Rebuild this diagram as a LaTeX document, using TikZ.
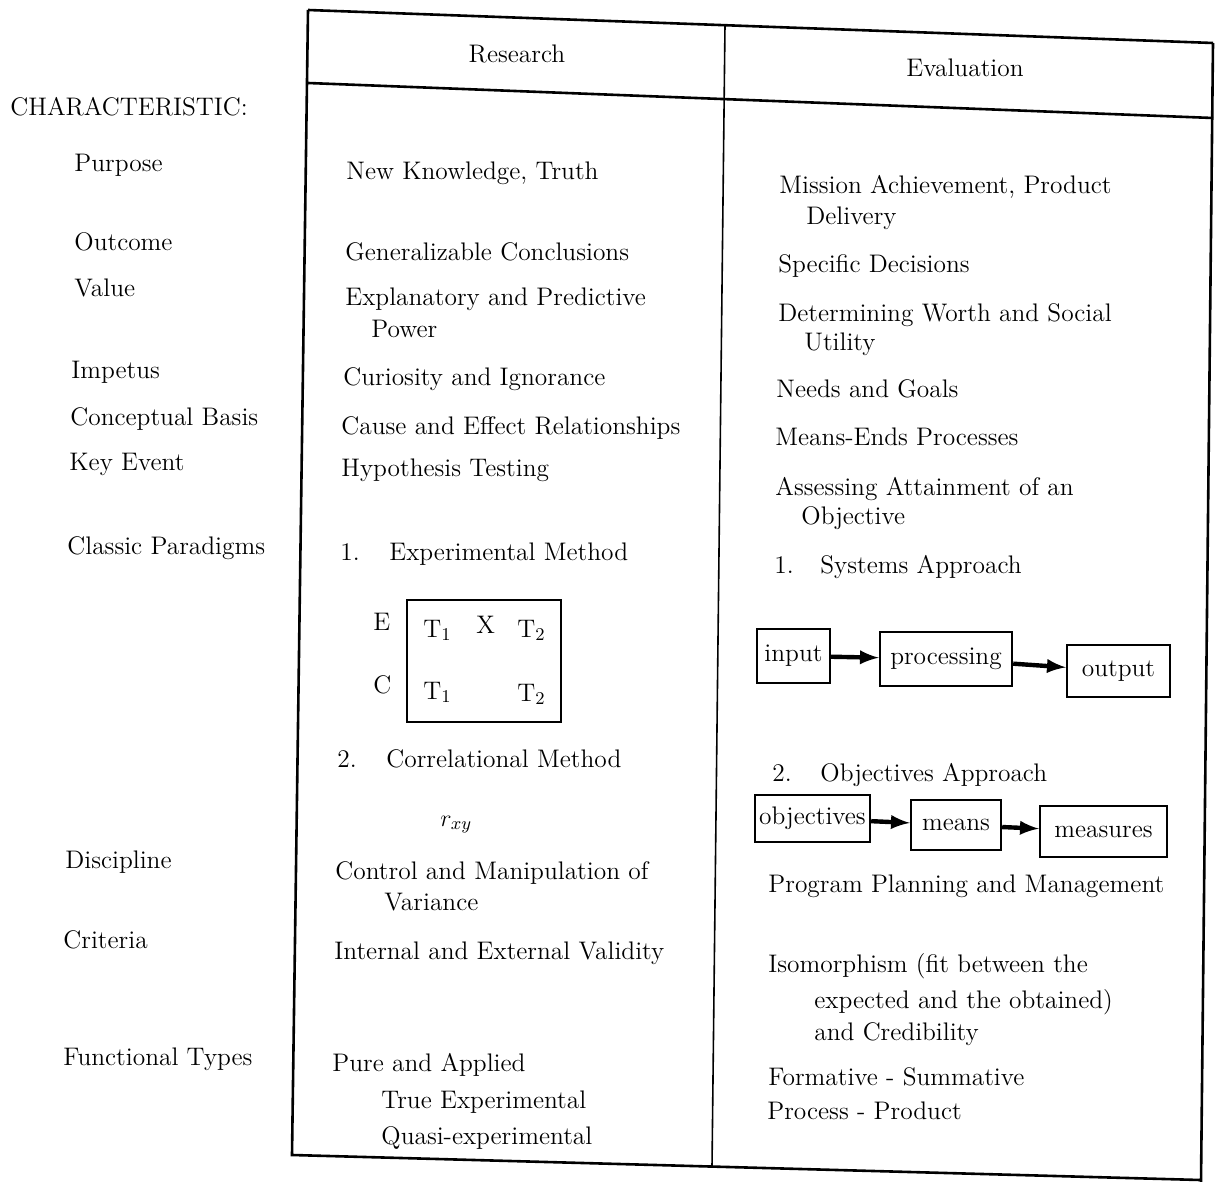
\documentclass[tikz,border=0pt]{standalone}
\begin{document}
\begin{tikzpicture}[x=0.5pt,y=-0.5pt,
	every node/.style={font=\fontsize{12.7}{15}\selectfont},
	txt/.style={anchor=base west, inner sep=0pt},
	flowbox/.style={draw, line width=1.2pt, inner sep=0pt},
	flowarrow/.style={line width=2.2pt, -latex}]
\useasboundingbox (0,0) rectangle (1217,1182);
% table frame
\draw[line width=1.3pt] (308,10) -- (1213,43);
\draw[line width=1.3pt] (308,83) -- (1213,118);
\draw[line width=1.3pt] (308,10) -- (292,1155) -- (1200,1180);
\draw[line width=1.3pt] (1213,43) -- (1201,1182);
\draw[line width=0.8pt] (725,25) -- (712,1167);
\path
	(517,54) node (research) {Research}
	(965,68) node (evaluation) {Evaluation};
% characteristics
\path
	(10,116) node[txt] (charac) {CHARACTERISTIC:}
	(74,172) node[txt] (purpose) {Purpose}
	(74,251) node[txt] (outcome) {Outcome}
	(74,297) node[txt] (value) {Value}
	(71,379) node[txt] (impetus) {Impetus}
	(70,426) node[txt] (basis) {Conceptual Basis}
	(69,471) node[txt] (keyevent) {Key Event}
	(67,554) node[txt] (paradigms) {Classic Paradigms}
	(65,868) node[txt] (discipline) {Discipline}
	(63,948) node[txt] (criteria) {Criteria}
	(63,1065) node[txt] (types) {Functional Types};
% research column
\path
	(346,180) node[txt] (r1) {New Knowledge, Truth}
	(345,261) node[txt] (r2) {Generalizable Conclusions}
	(345,306) node[txt] (r3) {Explanatory and Predictive}
	(371,338) node[txt] (r3b) {Power}
	(343,386) node[txt] (r4) {Curiosity and Ignorance}
	(341,435) node[txt] (r5) {Cause and Effect Relationships}
	(341,477) node[txt] (r6) {Hypothesis Testing}
	(340,560) node[txt] (r7n) {1.}
	(389,560) node[txt] (r7) {Experimental Method}
	(337,767) node[txt] (r8n) {2.}
	(386,767) node[txt] (r8) {Correlational Method}
	(440,826) node[txt] (rxy) {$r_{xy}$}
	(335,879) node[txt] (r9) {Control and Manipulation of}
	(384,910) node[txt] (r9b) {Variance}
	(334,959) node[txt] (r10) {Internal and External Validity}
	(332,1071) node[txt] (r11) {Pure and Applied}
	(381,1108) node[txt] (r11b) {True Experimental}
	(381,1144) node[txt] (r11c) {Quasi-experimental};
% design box
\node[draw, line width=1.2pt, minimum width=77pt, minimum height=61pt] (design) at (484,661) {};
\path
	(373,631) node[txt] (egroup) {E}
	(373,693) node[txt] (cgroup) {C}
	(423,637) node[txt] (et1) {T$_1$}
	(476,633) node[txt] (ex) {X}
	(517,637) node[txt] (et2) {T$_2$}
	(423,699) node[txt] (ct1) {T$_1$}
	(517,701) node[txt] (ct2) {T$_2$};
% evaluation column
\path
	(779,194) node[txt] (e1) {Mission Achievement, Product}
	(806,225) node[txt] (e1b) {Delivery}
	(778,273) node[txt] (e2) {Specific Decisions}
	(778,322) node[txt] (e3) {Determining Worth and Social}
	(804,351) node[txt] (e3b) {Utility}
	(776,398) node[txt] (e4) {Needs and Goals}
	(775,446) node[txt] (e5) {Means-Ends Processes}
	(775,495) node[txt] (e6) {Assessing Attainment of an}
	(801,524) node[txt] (e6b) {Objective}
	(774,574) node[txt] (e7n) {1.}
	(820,574) node[txt] (e7) {Systems Approach}
	(772,781) node[txt] (e8n) {2.}
	(820,781) node[txt] (e8) {Objectives Approach}
	(768,892) node[txt] (e9) {Program Planning and Management}
	(768,972) node[txt] (e10) {Isomorphism (fit between the}
	(814,1008) node[txt] (e10b) {expected and the obtained)}
	(814,1040) node[txt] (e10c) {and Credibility}
	(768,1085) node[txt] (e11) {Formative - Summative}
	(767,1119) node[txt] (e11b) {Process - Product};
% flow boxes
\node[flowbox, minimum width=36.5pt, minimum height=27pt] (input) at (793.5,656) {input};
\node[flowbox, minimum width=66pt, minimum height=27pt] (processing) at (946,659) {processing};
\node[flowbox, minimum width=51.5pt, minimum height=26pt] (output) at (1118.5,671) {output};
\node[flowbox, minimum width=57.5pt, minimum height=23.5pt] (objectives) at (812.5,818.5) {objectives};
\node[flowbox, minimum width=45pt, minimum height=25pt] (means) at (956,825) {means};
\node[flowbox, minimum width=63.5pt, minimum height=25.5pt] (measures) at (1103.5,831.5) {measures};
\draw[flowarrow] (input) -- (processing);
\draw[flowarrow] (processing) -- (output);
\draw[flowarrow] (objectives) -- (means);
\draw[flowarrow] (means) -- (measures);
\end{tikzpicture}
\end{document}
